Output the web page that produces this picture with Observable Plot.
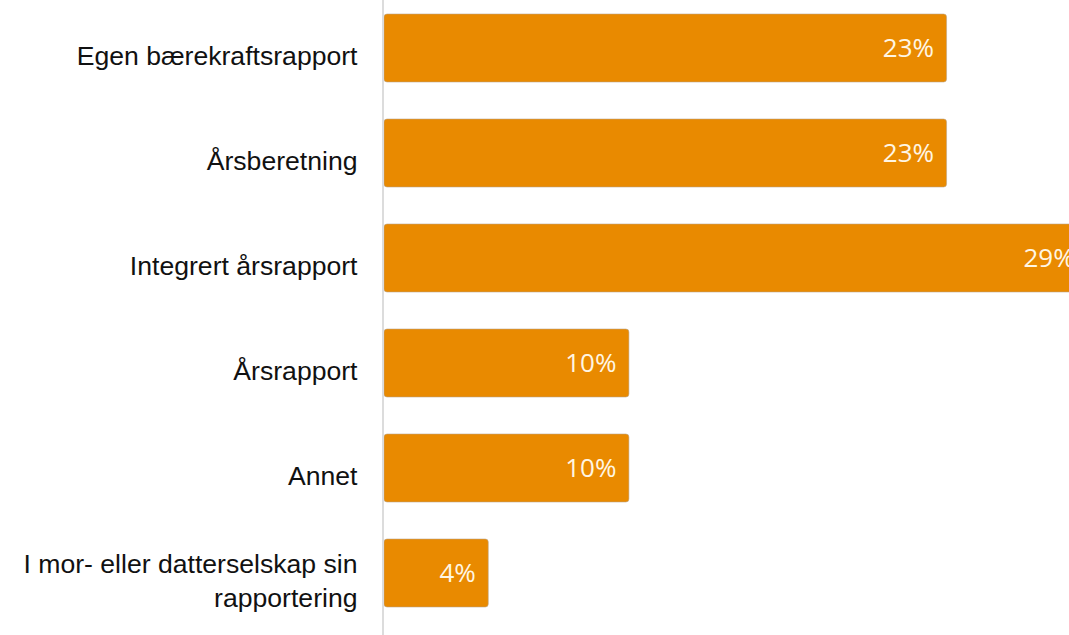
<!DOCTYPE html>
<html>
<head>
<meta charset="utf-8">
<script src="https://cdn.jsdelivr.net/npm/d3@7"></script>
<script src="https://cdn.jsdelivr.net/npm/@observablehq/plot@0.6"></script>
<style>
  html, body { margin: 0; padding: 0; background: #fff; overflow: hidden; }
  #chart { width: 1069px; height: 635px; overflow: hidden; }
</style>
</head>
<body>
<div id="chart"></div>
<script>
const categories = [
  "Egen bærekraftsrapport",
  "Årsberetning",
  "Integrert årsrapport",
  "Årsrapport",
  "Annet",
  "I mor- eller datterselskap sin\nrapportering"
];
const percents = [23.2, 23.2, 29.0, 10.1, 10.1, 4.3];

const data = categories.map((c, i) => ({category: c, value: percents[i]}));

const chart = Plot.plot({
  width: 1069,
  height: 635,
  marginLeft: 384,
  marginRight: 0,
  marginTop: 0,
  marginBottom: 0,
  style: {fontFamily: "'Liberation Sans', Arial, sans-serif", background: "#fff", overflow: "hidden"},
  x: {domain: [0, 28.25], axis: null},
  y: {domain: categories, range: [-25.2, 646.7], padding: 0.357, label: null},
  marks: [
    Plot.barX(data, {
      x: "value", y: "category",
      fill: "#e98a00", stroke: "#b8a388", strokeWidth: 0.8, strokeOpacity: 0.7, rx: 3
    }),
    Plot.ruleX([0], {stroke: "#dcdcdc", strokeWidth: 2, dx: -1.5}),
    Plot.text(data, {
      x: "value", y: "category",
      text: d => Math.round(d.value) + "%",
      textAnchor: "end", dx: -13,
      fill: "#fff6e4",
      fontSize: 26,
      fontFamily: "'Open Sans', sans-serif"
    }),
    Plot.axisY({
      tickSize: 0, tickPadding: 27, dy: 6,
      fontSize: 26.6, lineHeight: 1.28,
      fill: "#111", label: null
    })
  ]
});
document.getElementById("chart").appendChild(chart);
</script>
</body>
</html>
